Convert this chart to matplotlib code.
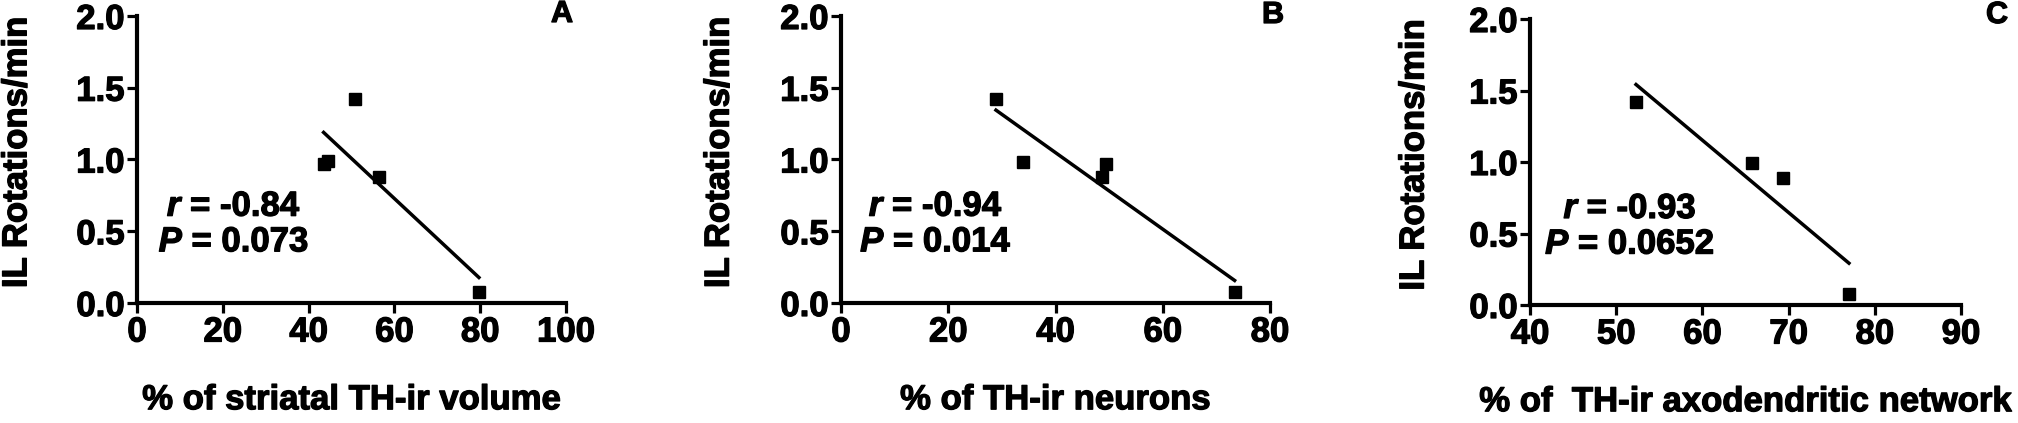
import numpy as np
import matplotlib
matplotlib.use("Agg")
import matplotlib.pyplot as plt
import matplotlib.patheffects as pe

plt.rcParams['font.family'] = ['Liberation Sans', 'DejaVu Sans']
plt.rcParams['font.weight'] = 'bold'
plt.rcParams['mathtext.fontset'] = 'custom'
plt.rcParams['mathtext.it'] = 'Liberation Sans:italic:bold'
plt.rcParams['mathtext.rm'] = 'Liberation Sans:bold'

# data
vol_x = [43.5, 44.6, 50.9, 56.4, 79.7]
vol_y = [0.97, 0.99, 1.42, 0.88, 0.075]

neur_x = [28.9, 33.9, 48.7, 49.4, 73.4]
neur_y = [1.42, 0.98, 0.88, 0.97, 0.075]

axo_x = [52.3, 65.7, 69.4, 77.0]
axo_y = [1.42, 0.99, 0.885, 0.08]

xlabels = ['% of striatal TH-ir volume', '% of TH-ir neurons', '% of  TH-ir axodendritic network']
ylabel = 'IL Rotations/min'
stats = ['$r$ = -0.84\n$P$ = 0.073', '$r$ = -0.94\n$P$ = 0.014', '$r$ = -0.93\n$P$ = 0.0652']
letters = ['A', 'B', 'C']
xlims = [(0, 100), (0, 80), (40, 90)]
xticks = [np.arange(0, 101, 20), np.arange(0, 81, 20), np.arange(40, 91, 10)]
text_x = [22.6, 17.7, 51.6]

W, H = 2018, 423
fig = plt.figure(figsize=(W / 100, H / 100), dpi=100)

# axes boxes in pixels: left, right, top, bottom
boxes = [(137, 566, 16, 303), (841, 1270, 16, 303), (1530, 1961, 19, 305)]
ylab_x = [-0.28, -0.284, -0.269]
letter_pos = [(562, 14), (1273, 15), (1997, 15)]

data = [(vol_x, vol_y), (neur_x, neur_y), (axo_x, axo_y)]
thick = [pe.withStroke(linewidth=0.9, foreground='black')]

for i in range(3):
    l, r, t, b = boxes[i]
    ax = fig.add_axes([l / W, 1 - b / H, (r - l) / W, (b - t) / H])
    x, y = data[i]
    ax.plot(x, y, 's', color='black', markersize=8.3, clip_on=False)
    k, c = np.polyfit(x, y, 1)
    xx = np.array([min(x), max(x)])
    ax.plot(xx, k * xx + c, color='black', lw=2.5)

    ax.set_xlim(*xlims[i])
    ax.set_ylim(0, 2.0)
    ax.set_xticks(xticks[i])
    ax.set_yticks([0, 0.5, 1.0, 1.5, 2.0])
    ax.set_yticklabels(['0.0', '0.5', '1.0', '1.5', '2.0'])
    for s in ['top', 'right']:
        ax.spines[s].set_visible(False)
    for s in ['left', 'bottom']:
        ax.spines[s].set_linewidth(3)
    ax.tick_params(length=7.5, width=2.3, labelsize=25, direction='out')
    ax.tick_params(axis='y', pad=1.5)
    ax.tick_params(axis='x', pad=1.5)

    ax.set_xlabel(xlabels[i], fontsize=25, fontweight='bold', labelpad=25)
    ax.set_ylabel(ylabel, fontsize=25, fontweight='bold')
    ax.yaxis.set_label_coords(ylab_x[i], 0.525)
    ax.yaxis.label.set_va('center')

    ax.text(text_x[i], 0.55, stats[i], fontsize=25, fontweight='bold',
            ha='center', va='center', multialignment='center', linespacing=1.1,
            path_effects=thick)

    for lab in ax.get_xticklabels() + ax.get_yticklabels():
        lab.set_path_effects(thick)
    ax.xaxis.label.set_path_effects(thick)
    ax.yaxis.label.set_path_effects(thick)

    lx, ly = letter_pos[i]
    fig.text(lx / W, 1 - ly / H, letters[i], fontsize=22, fontweight='bold',
             ha='center', va='center', path_effects=thick)

fig.savefig('out.png', dpi=100)
